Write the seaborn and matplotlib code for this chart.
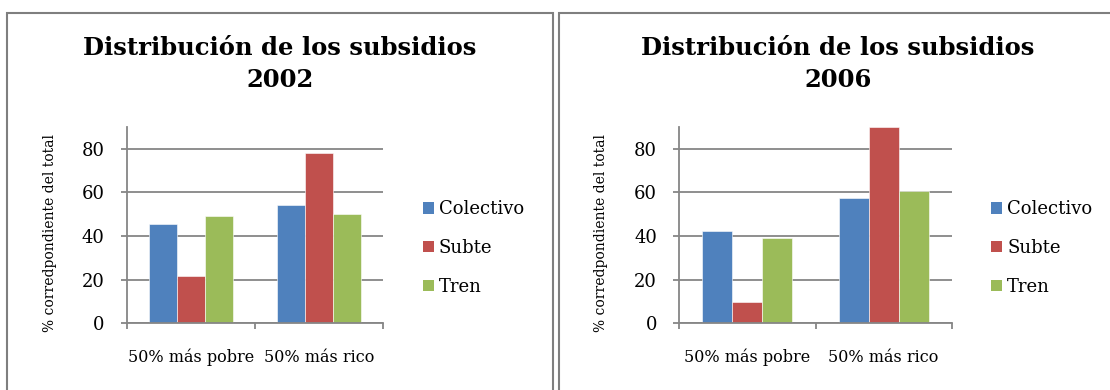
import matplotlib
matplotlib.use("Agg")
import matplotlib.pyplot as plt
import seaborn as sns
import pandas as pd
from matplotlib.patches import Rectangle

# ---- data ----
categories = ["50% más pobre", "50% más rico"]
series = ["Colectivo", "Subte", "Tren"]
values_2002 = {"Colectivo": [45.5, 54.1], "Subte": [21.6, 78.0], "Tren": [49.4, 50.0]}
values_2006 = {"Colectivo": [42.5, 57.3], "Subte": [9.7, 90.0], "Tren": [39.0, 60.5]}
years = ["2002", "2006"]
title_text = "Distribución de los subsidios"
ylabel_text = "% corredpondiente del total"
yticks = [0, 20, 40, 60, 80]
colors = ["#4F81BD", "#C0504D", "#9BBB59"]

sns.set_theme(style="white")
plt.rcParams["font.family"] = ["DejaVu Serif"]
plt.rcParams["text.color"] = "black"
plt.rcParams["xtick.color"] = "black"
plt.rcParams["ytick.color"] = "black"
plt.rcParams["xtick.labelcolor"] = "black"
plt.rcParams["ytick.labelcolor"] = "black"

W, H = 1110, 390
fig = plt.figure(figsize=(W / 100, H / 100), dpi=100)

def fx(px):
    return px / W

def fy(py):
    return 1 - py / H

grey = "#868686"

# panel borders
for x0, x1 in [(7.3, 552.7), (559.3, 1125)]:
    fig.patches.append(Rectangle((fx(x0), fy(420)), fx(x1 - x0), (420 - 12.7) / H,
                                 transform=fig.transFigure, fill=False,
                                 edgecolor="#7f7f7f", linewidth=1.5))

panels = [
    dict(vals=values_2002, year=years[0], ax=(127, 383), tcx=280, ylx=50.5, legx=422.7),
    dict(vals=values_2006, year=years[1], ax=(679.3, 951.7), tcx=838, ylx=601.5, legx=991),
]

top_px, bot_px = 127, 323.3
for p in panels:
    l, r = p["ax"]
    ax = fig.add_axes([fx(l), fy(bot_px), fx(r - l), (bot_px - top_px) / H])
    rows = []
    for s in series:
        for c, v in zip(categories, p["vals"][s]):
            rows.append({"cat": c, "serie": s, "val": v})
    df = pd.DataFrame(rows)
    sns.barplot(data=df, x="cat", y="val", hue="serie", palette=colors, saturation=1,
                width=0.66, gap=0, ax=ax, edgecolor="white", linewidth=0.4, legend=False)
    ax.set_ylim(0, 90)
    ax.set_xlim(-0.5, 1.5)
    ax.set_yticks(yticks)
    ax.set_yticklabels([str(t) for t in yticks], fontsize=13, color="black")
    ax.set_xlabel("")
    ax.set_ylabel("")
    ax.grid(axis="y", color=grey, linewidth=1.3)
    ax.set_axisbelow(True)
    for sp in ["top", "right"]:
        ax.spines[sp].set_visible(False)
    for sp in ["left", "bottom"]:
        ax.spines[sp].set_color(grey)
        ax.spines[sp].set_linewidth(1.3)
    ax.tick_params(axis="y", which="major", direction="out", length=4, width=1.3,
                   color=grey, left=True, pad=12)
    ax.set_xticks([-0.5, 0.5, 1.5], minor=True)
    ax.tick_params(axis="x", which="minor", direction="out", length=4, width=1.3,
                   color=grey, bottom=True)
    ax.tick_params(axis="x", which="major", length=0, pad=28, labelsize=11.5,
                   labelcolor="black")
    for lbl in ax.get_xticklabels():
        lbl.set_verticalalignment("baseline")
    # legend
    handles = [Rectangle((0, 0), 1, 1, facecolor=c, edgecolor="none") for c in colors]
    leg = fig.legend(handles, series, loc="center left",
                     bbox_to_anchor=(fx(p["legx"]), fy(248)), frameon=False, fontsize=13,
                     borderpad=0, borderaxespad=0, handlelength=0.6, handleheight=0.6,
                     handletextpad=0.3, labelspacing=1.15)
    for t in leg.get_texts():
        t.set_color("black")
    # titles
    fig.text(fx(p["tcx"]), fy(48), title_text, ha="center", va="center",
             fontsize=17.5, fontweight="bold", color="black")
    fig.text(fx(p["tcx"]), fy(80), p["year"], ha="center", va="center",
             fontsize=17.5, fontweight="bold", color="black")
    fig.text(fx(p["ylx"]), fy(232.5), ylabel_text, rotation=90, ha="center", va="center",
             fontsize=10, color="black")

fig.savefig("out.png", dpi=100, facecolor="white")
